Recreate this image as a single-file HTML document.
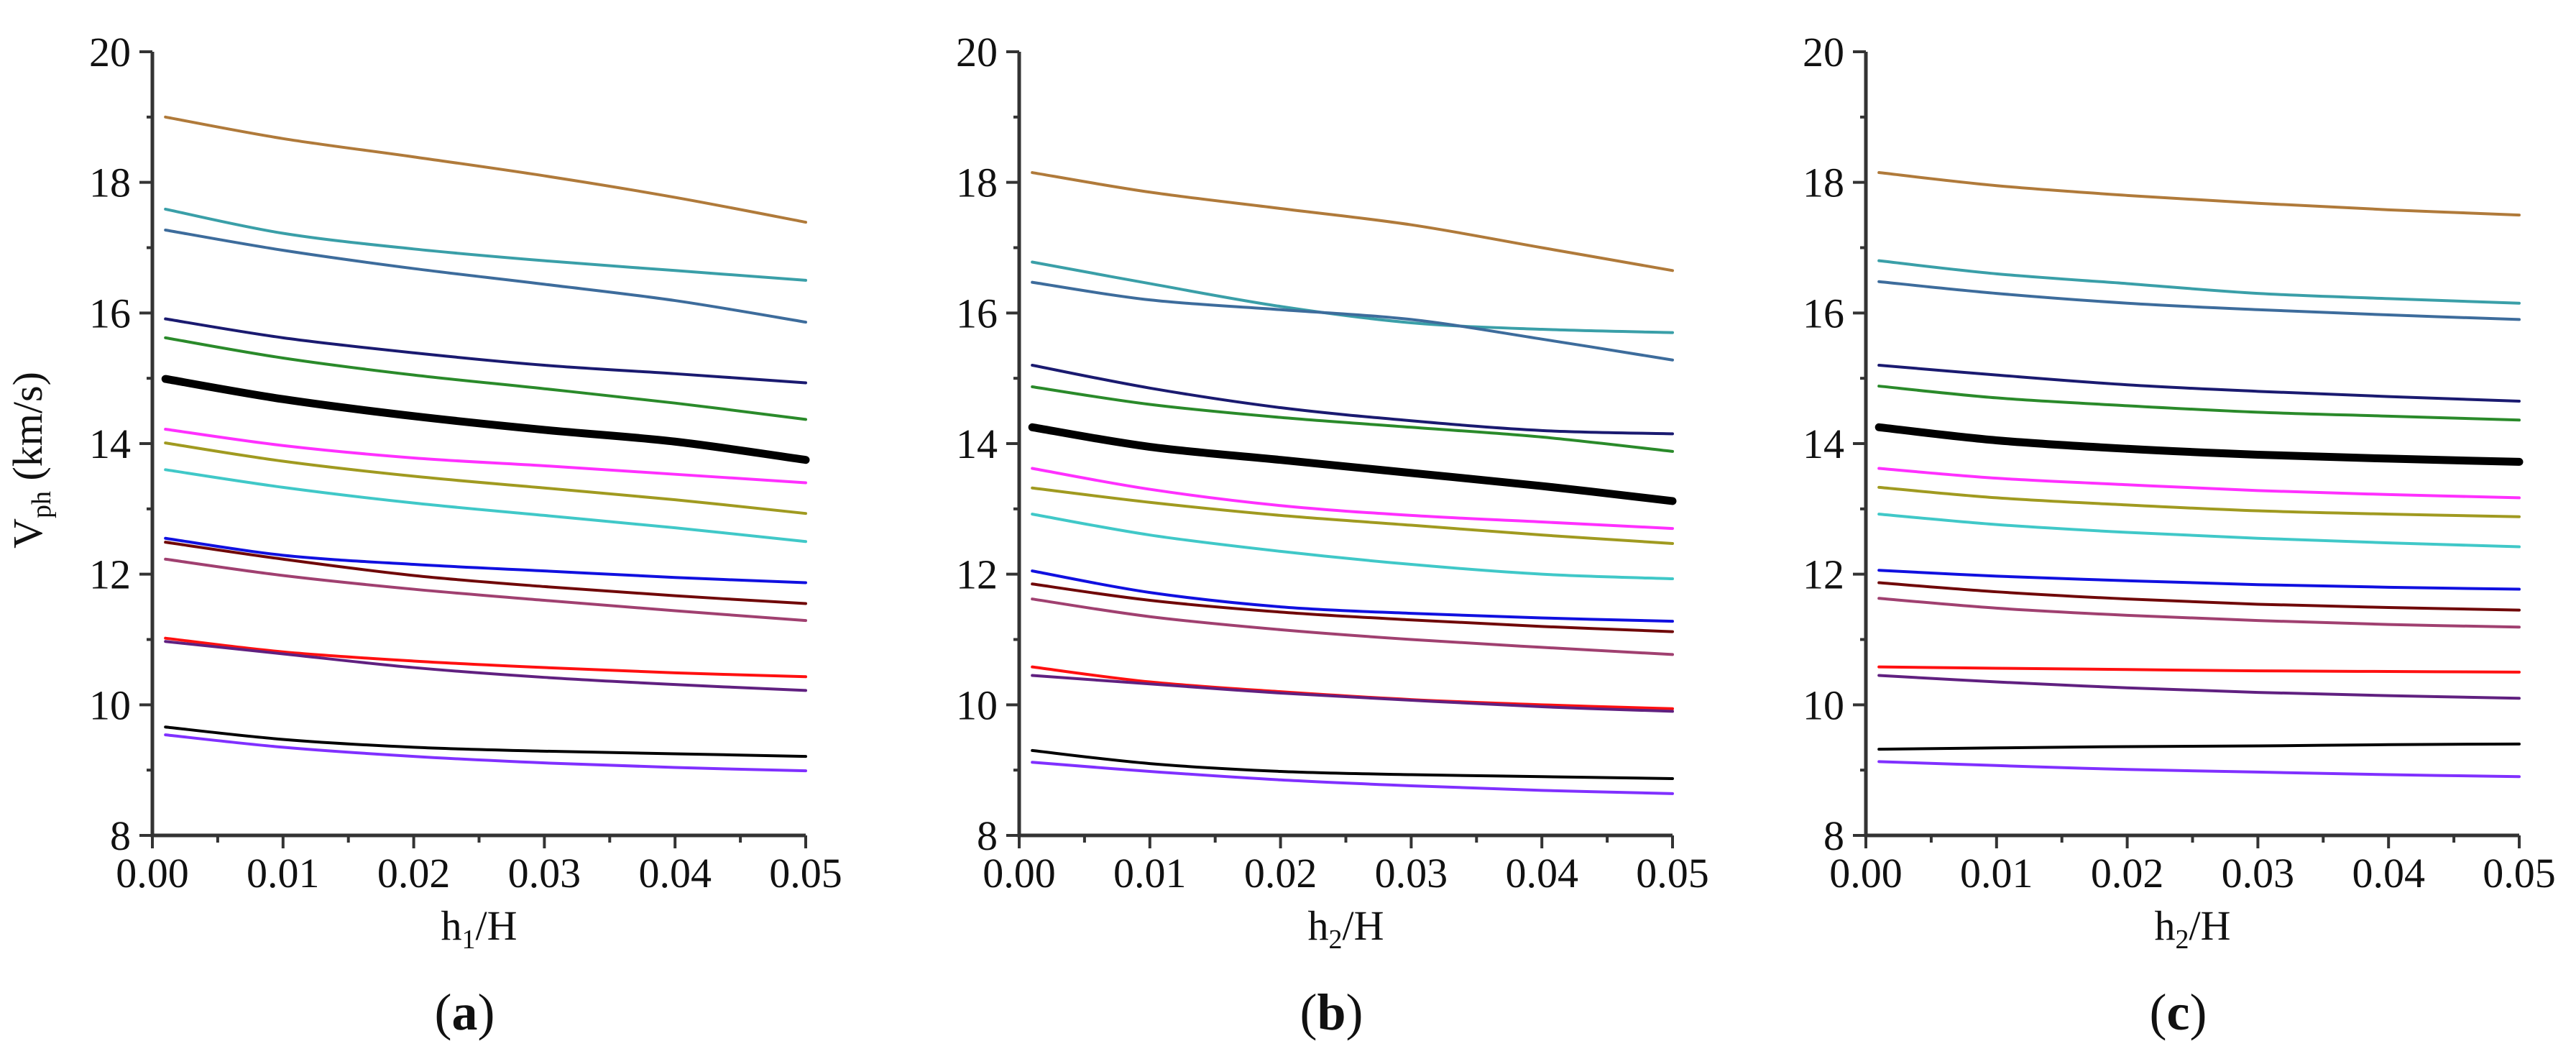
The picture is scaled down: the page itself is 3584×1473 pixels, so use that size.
<!DOCTYPE html>
<html><head><meta charset="utf-8"><style>
html,body{margin:0;padding:0;background:#fff;width:3584px;height:1473px;overflow:hidden}
svg text{font-family:"Liberation Serif",serif;fill:#111}
</style></head><body>
<svg id="chart" width="3584" height="1473" xmlns="http://www.w3.org/2000/svg"></svg>
<script>
const xVals=[0.001,0.01,0.02,0.03,0.04,0.05];
const xTicks=[0,0.01,0.02,0.03,0.04,0.05];
const xTickLabels=["0.00","0.01","0.02","0.03","0.04","0.05"];
const yTicks=[8,10,12,14,16,18,20];
const panelLabels=["(a)","(b)","(c)"];
const xTitles=["1","2","2"];
const seriesNames=["brown","teal","steel","navy","green","thick-black","magenta","olive","cyan","blue","maroon","plum","red","purple","black","violet"];
const seriesColors=["#b07a3a","#3a9fa8","#3d6c9c","#1a1a70","#2a8a2a","#000","#ff30ff","#a09a20","#40c8c8","#1010e0","#700808","#a04070","#ff1010","#602080","#000","#8030ff"];
const panelA=[
[19.0,18.67,18.39,18.1,17.77,17.39],[17.59,17.22,16.98,16.8,16.65,16.5],[17.27,16.96,16.68,16.44,16.19,15.86],
[15.91,15.62,15.39,15.2,15.07,14.93],[15.62,15.31,15.05,14.84,14.62,14.37],[14.99,14.68,14.42,14.21,14.03,13.75],
[14.22,13.97,13.78,13.66,13.53,13.4],[14.01,13.73,13.5,13.32,13.14,12.93],[13.6,13.33,13.09,12.9,12.71,12.5],
[12.55,12.29,12.15,12.05,11.95,11.87],[12.49,12.23,11.98,11.81,11.67,11.55],[12.23,11.98,11.77,11.6,11.44,11.29],
[11.02,10.81,10.67,10.57,10.49,10.43],[10.97,10.78,10.57,10.42,10.31,10.22],[9.66,9.47,9.35,9.29,9.25,9.21],
[9.54,9.35,9.21,9.11,9.04,8.99]];
const panelB=[
[18.15,17.85,17.6,17.35,17.0,16.65],[16.78,16.45,16.1,15.85,15.75,15.7],[16.47,16.2,16.05,15.9,15.6,15.28],
[15.2,14.85,14.55,14.35,14.2,14.15],[14.87,14.6,14.4,14.25,14.1,13.88],[14.25,13.95,13.75,13.55,13.35,13.12],
[13.62,13.3,13.05,12.9,12.8,12.7],[13.32,13.1,12.9,12.75,12.6,12.47],[12.92,12.6,12.35,12.15,12.0,11.93],
[12.05,11.72,11.5,11.4,11.33,11.28],[11.85,11.6,11.42,11.3,11.2,11.12],[11.62,11.35,11.15,11.0,10.88,10.77],
[10.58,10.35,10.2,10.08,10.0,9.94],[10.45,10.32,10.18,10.07,9.97,9.9],[9.3,9.1,8.98,8.93,8.9,8.87],
[9.12,8.98,8.85,8.76,8.69,8.64]];
const panelC=[
[18.15,17.95,17.8,17.68,17.58,17.5],[16.8,16.6,16.45,16.3,16.22,16.15],[16.48,16.3,16.15,16.05,15.97,15.9],
[15.2,15.05,14.9,14.8,14.72,14.65],[14.88,14.7,14.58,14.48,14.42,14.36],[14.25,14.05,13.92,13.83,13.77,13.72],
[13.62,13.47,13.37,13.28,13.22,13.17],[13.33,13.17,13.06,12.97,12.92,12.88],[12.92,12.76,12.64,12.55,12.48,12.42],
[12.06,11.97,11.9,11.84,11.8,11.77],[11.87,11.73,11.62,11.54,11.49,11.45],[11.63,11.48,11.37,11.29,11.23,11.19],
[10.58,10.56,10.54,10.52,10.51,10.5],[10.45,10.35,10.26,10.19,10.14,10.1],[9.32,9.34,9.36,9.37,9.39,9.4],
[9.13,9.07,9.01,8.97,8.93,8.9]];
const panels=[panelA,panelB,panelC];

const NS="http://www.w3.org/2000/svg";
const svg=document.getElementById('chart');
function el(tag,attrs,parent){const e=document.createElementNS(NS,tag);for(const k in attrs)e.setAttribute(k,attrs[k]);(parent||svg).appendChild(e);return e;}
const origins=[212,1418,2596], PW=909, TOP=72, BOT=1162;
function yS(v){return BOT-(v-8)/12*(BOT-TOP);}
function smooth(pts){let d="M"+pts[0][0]+","+pts[0][1];
 for(let i=0;i<pts.length-1;i++){const p0=pts[Math.max(0,i-1)],p1=pts[i],p2=pts[i+1],p3=pts[Math.min(pts.length-1,i+2)];
 const c1=[p1[0]+(p2[0]-p0[0])/6,p1[1]+(p2[1]-p0[1])/6],c2=[p2[0]-(p3[0]-p1[0])/6,p2[1]-(p3[1]-p1[1])/6];
 d+=" C"+c1[0]+","+c1[1]+" "+c2[0]+","+c2[1]+" "+p2[0]+","+p2[1];}return d;}
panels.forEach((data,p)=>{
 const x0=origins[p];
 const xS=v=>x0+v/0.05*PW;
 const g=el('g',{});
 
 
 data.forEach((s,i)=>{
  const pts=s.map((v,j)=>[xS(xVals[j]),yS(v)]);
  const path=el('path',{d:smooth(pts),fill:'none',stroke:seriesColors[i],'stroke-width':seriesNames[i]==='thick-black'?11:4,'stroke-linecap':'round'},g);
  
  
 });
 const ax=el('path',{d:`M${x0},${TOP} V${BOT} H${x0+PW}`,fill:'none',stroke:'#333','stroke-width':5},g);
 
 
 yTicks.forEach(t=>{const y=yS(t);
  el('line',{x1:x0-18,x2:x0,y1:y,y2:y,stroke:'#333','stroke-width':4},g);
  if(t<20) el('line',{x1:x0-8,x2:x0,y1:yS(t+1),y2:yS(t+1),stroke:'#333','stroke-width':4},g);
  const tx=el('text',{x:x0-30,y:y+20,'font-size':58,'text-anchor':'end'},g);tx.textContent=t;
  
  
 });
 xTicks.forEach((t,k)=>{const x=xS(t);
  el('line',{x1:x,x2:x,y1:BOT,y2:BOT+18,stroke:'#333','stroke-width':4},g);
  if(k<5) el('line',{x1:xS(t+0.005),x2:xS(t+0.005),y1:BOT,y2:BOT+10,stroke:'#333','stroke-width':4},g);
  const tx=el('text',{x:x,y:BOT+72,'font-size':58,'text-anchor':'middle'},g);tx.textContent=xTickLabels[k];
  
  
 });
 const xt=el('text',{x:x0+PW/2,y:1307,'font-size':58,'text-anchor':'middle'},g);
 xt.innerHTML='h<tspan font-size="38" dy="12">'+xTitles[p]+'</tspan><tspan dy="-12">/H</tspan>';
 
 
 const pl=el('text',{x:x0+PW/2-20,y:1432,'font-size':72,'text-anchor':'middle'},g);
 pl.innerHTML='(<tspan font-weight="bold">'+panelLabels[p][1]+'</tspan>)';
 
 
});
const yt=el('text',{x:0,y:0,'font-size':58,'text-anchor':'middle',transform:'translate(58,640) rotate(-90)'});
yt.innerHTML='V<tspan font-size="38" dy="12">ph</tspan><tspan dy="-12"> (km/s)</tspan>';


</script>
</body></html>
